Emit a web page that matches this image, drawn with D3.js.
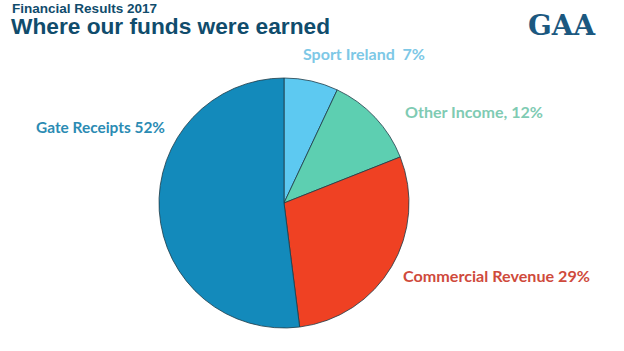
<!DOCTYPE html>
<html>
<head>
<meta charset="utf-8">
<script src="https://cdn.jsdelivr.net/npm/d3@7"></script>
<style>
  body { margin: 0; background: #fff; }
  svg { display: block; }
  text.lbl { white-space: pre; }
</style>
</head>
<body>
<svg class="chart"></svg>
<script>
// funds by source, percent of total
var sources = ["Sport Ireland", "Other Income", "Commercial Revenue", "Gate Receipts"];
var shares = [7, 12, 29, 52];
var labels = ["Sport Ireland  7%", "Other Income, 12%", "Commercial Revenue 29%", "Gate Receipts 52%"];
var sliceColors = ["#5dc9f1", "#5dcfb1", "#ef4123", "#138abb"];
var labelColors = ["#7dc8e6", "#7fcbb3", "#cf4a3c", "#2b8bb3"];

function show() {
    'use strict';
    var width = 624, height = 351;

    var svg = d3.select(".chart")
        .attr("width", width)
        .attr("height", height);

    // titles
    svg.append("text")
        .attr("x", 12).attr("y", 13)
        .attr("font-family", "Liberation Sans, Arial, sans-serif")
        .attr("font-weight", "bold")
        .attr("font-size", 13)
        .attr("textLength", 145).attr("lengthAdjust", "spacingAndGlyphs")
        .attr("fill", "#104c6c")
        .text("Financial Results 2017");

    svg.append("text")
        .attr("x", 11).attr("y", 34)
        .attr("font-family", "Liberation Sans, Arial, sans-serif")
        .attr("font-weight", "bold")
        .attr("font-size", 21.5)
        .attr("textLength", 319).attr("lengthAdjust", "spacingAndGlyphs")
        .attr("fill", "#104c6c")
        .text("Where our funds were earned");

    // logo
    svg.append("text")
        .attr("x", 528).attr("y", 35)
        .attr("font-family", "DejaVu Serif, serif")
        .attr("font-weight", "bold")
        .attr("font-size", 27)
        .attr("textLength", 67).attr("lengthAdjust", "spacingAndGlyphs")
        .attr("fill", "#1b5880")
        .text("GAA");

    // pie
    var cx = 284, cy = 203, r = 125;
    var data = sources.map(function(s, i) { return {name: s, value: shares[i], i: i}; });

    var pie = d3.pie()
        .value(function(d) { return d.value; })
        .sort(null);
    var arc = d3.arc().innerRadius(0).outerRadius(r);

    var g = svg.append("g")
        .attr("transform", "translate(" + cx + "," + cy + ")");

    g.selectAll("path").data(pie(data)).enter()
        .append("path")
        .attr("d", arc)
        .attr("fill", function(d) { return sliceColors[d.data.i]; })
        .attr("stroke", "#1e3b48")
        .attr("stroke-width", 0.8);

    // slice labels
    var labelPos = [[303, 60, 122], [405, 118, 138], [403, 282, 187], [36, 133, 129]];
    svg.selectAll("text.lbl").data(data).enter()
        .append("text")
        .attr("class", "lbl")
        .attr("x", function(d) { return labelPos[d.i][0]; })
        .attr("y", function(d) { return labelPos[d.i][1]; })
        .attr("textLength", function(d) { return labelPos[d.i][2]; })
        .attr("lengthAdjust", "spacingAndGlyphs")
        .attr("font-family", "Lato, Open Sans, sans-serif")
        .attr("font-weight", "bold")
        .attr("font-size", 15.5)
        .attr("fill", function(d) { return labelColors[d.i]; })
        .text(function(d) { return labels[d.i]; });
}

show();
</script>
</body>
</html>
